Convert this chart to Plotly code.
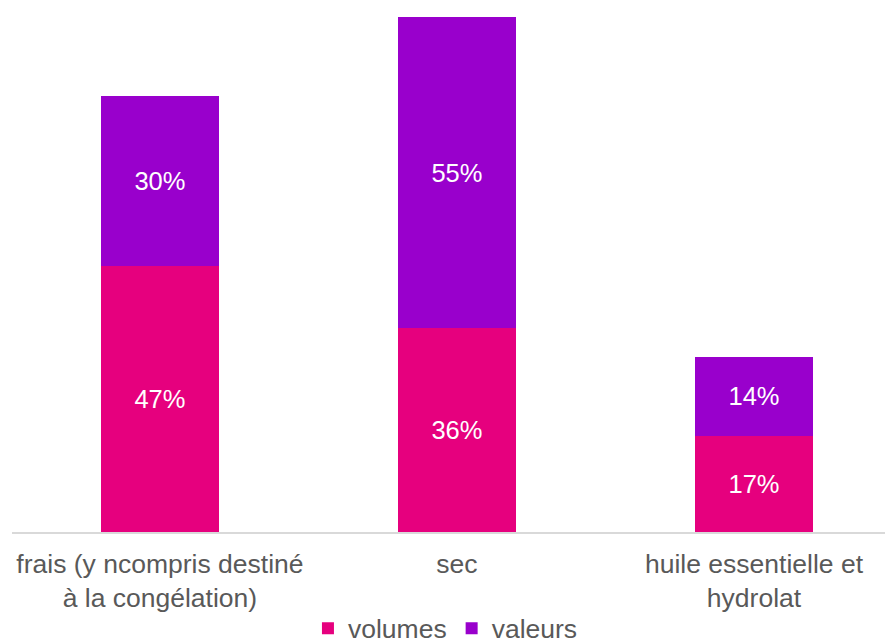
import plotly.graph_objects as go

categories = ["frais (y ncompris destiné<br>à la congélation)", "sec", "huile essentielle et<br>hydrolat"]
volumes = [47, 36, 17]
valeurs = [30, 55, 14]

fig = go.Figure()
fig.add_trace(go.Bar(
    x=categories, y=volumes, name="volumes",
    marker=dict(color="#E6007E", line=dict(width=0)),
    text=[f"{v}%" for v in volumes], textposition="inside",
    insidetextanchor="middle", textfont=dict(color="white", size=25.5),
    width=0.397,
))
fig.add_trace(go.Bar(
    x=categories, y=valeurs, name="valeurs",
    marker=dict(color="#9900CC", line=dict(width=0)),
    text=[f"{v}%" for v in valeurs], textposition="inside",
    insidetextanchor="middle", textfont=dict(color="white", size=25.5),
    width=0.397,
))

# page body has an 8px margin, so the figure is 8px smaller and shifted
fig.update_layout(
    barmode="stack",
    width=885, height=635,
    margin=dict(l=4, r=0, t=0, b=111, autoexpand=False),
    paper_bgcolor="white", plot_bgcolor="white",
    font=dict(family="Liberation Sans, Arial, sans-serif", size=26, color="#595959"),
    uniformtext=dict(minsize=25, mode="show"),
    showlegend=True,
    legend=dict(orientation="h", x=0.492, xanchor="center", y=-0.184, yanchor="middle",
                font=dict(size=26.5, color="#595959"), itemwidth=30, traceorder="normal"),
    xaxis=dict(showline=True, linecolor="#D9D9D9", linewidth=1.5, showgrid=False,
               ticks="", tickfont=dict(size=26.5, color="#595959"), automargin=False,
               ticklabelstandoff=7, range=[-0.498, 2.468]),
    yaxis=dict(visible=False, range=[0, 92.6], showgrid=False, automargin=False),
)

fig.write_html("out.html")
